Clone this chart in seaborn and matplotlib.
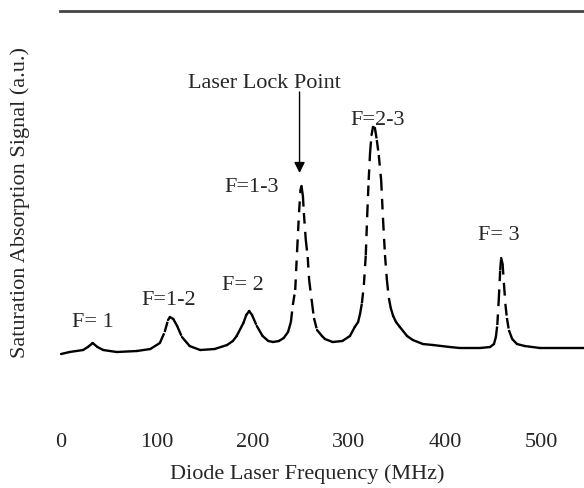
import matplotlib
matplotlib.use("Agg")
import matplotlib.pyplot as plt
import numpy as np
import pandas as pd
import seaborn as sns

# Saturated absorption trace (frequency in MHz, signal in arbitrary units)
freq_mhz = [0, 9, 23, 28, 33, 38, 44, 58, 79, 93, 103, 108, 111.5, 113.5, 117, 121,
            126, 134, 145, 160, 173, 179, 183, 190, 193, 196, 199, 204, 210, 216, 221,
            227, 232, 236.5, 239.5, 241.5, 244, 246, 248, 249.5, 250.5, 252, 253, 255,
            257, 258.5, 261.5, 263.5, 266.7, 271.9, 275, 283, 293, 301, 306, 309.5,
            311.5, 313.5, 315.5, 317.5, 319, 320.5, 322, 323.5, 325, 327, 329, 331,
            333.5, 335.5, 337.5, 339.5, 341.5, 343.5, 346, 349, 353, 360.5, 366.5, 377,
            387.5, 405, 415.5, 436.5, 447, 451, 453, 454.5, 456, 457.5, 458.5, 460,
            461.5, 463, 464.5, 466.5, 470, 475, 483, 499, 520, 545]
signal_au = [-0.2, 0.0, 0.2, 0.5, 0.9, 0.5, 0.2, 0.0, 0.1, 0.3, 0.9, 2.0, 3.2, 3.5, 3.3,
             2.6, 1.5, 0.6, 0.2, 0.3, 0.7, 1.1, 1.6, 2.9, 3.7, 4.1, 3.7, 2.6, 1.6, 1.1,
             1.0, 1.1, 1.4, 2.0, 3.0, 4.7, 6.2, 10.2, 14.0, 16.2, 16.6, 15.6, 13.9, 11.2,
             9.5, 7.2, 4.9, 3.4, 2.2, 1.6, 1.3, 1.0, 1.1, 1.6, 2.5, 3.0, 3.8, 4.9, 6.7,
             9.7, 13.7, 17.2, 20.0, 21.7, 22.5, 22.4, 21.2, 19.7, 17.2, 13.2, 9.7, 7.2,
             5.4, 4.4, 3.6, 3.0, 2.5, 1.6, 1.2, 0.8, 0.7, 0.5, 0.4, 0.4, 0.5, 0.8, 1.5,
             2.7, 5.2, 8.2, 9.4, 8.8, 6.7, 4.7, 3.4, 2.2, 1.3, 0.8, 0.6, 0.4, 0.4, 0.4]

# Hyperfine / crossover peak labels
peak_labels = ["F= 1", "F=1-2", "F= 2", "F=1-3", "F=2-3", "F= 3"]
peak_label_freq = [33, 112, 189, 199, 330, 456]
peak_label_signal = [2.5, 4.7, 6.2, 16.0, 22.7, 11.2]

lock_text = "Laser Lock Point"

x_ticks = [0, 100, 200, 300, 400, 500]
x_marks = [300, 400]

sns.set_style("white")
plt.rcParams["font.family"] = ["Liberation Serif", "DejaVu Serif"]

fig = plt.figure(figsize=(5.84, 4.88), dpi=100)
ax = fig.add_axes([0.1027, 0.1475, 0.8973, 0.830])
ax.set_xlim(-1.04, 544.8)
ax.set_ylim(-6.4, 34.1)

# Split the trace into segments; the steep flanks are drawn broken, as the
# sparse sampling of the scope trace renders them.
pts = ax.transData.transform(np.column_stack([freq_mhz, signal_au]))
rows = []
for i in range(len(freq_mhz) - 1):
    dx, dy = np.abs(pts[i + 1] - pts[i])
    kind = "steep" if (dy > 9 and dy > 2.0 * dx) else "flat"
    for j in (i, i + 1):
        rows.append({"freq": freq_mhz[j], "signal": signal_au[j], "seg": i, "kind": kind})
seg_df = pd.DataFrame(rows)

sns.lineplot(data=seg_df, x="freq", y="signal", units="seg", style="kind",
             dashes={"flat": "", "steep": (4.5, 3.5)}, estimator=None,
             color="black", linewidth=1.7, sort=False, legend=False, ax=ax)

ax.set_xlim(-1.04, 544.8)
ax.set_ylim(-6.4, 34.1)

for side in ["left", "right", "bottom"]:
    ax.spines[side].set_visible(False)
ax.spines["top"].set_visible(True)
ax.spines["top"].set_color("#444444")
ax.spines["top"].set_linewidth(2.0)

ax.set_yticks([])
ax.set_xticks(x_ticks)
ax.set_xticklabels([str(t) for t in x_ticks], fontsize=16)
ax.tick_params(axis="x", which="major", length=0, pad=12)
ax.set_xticks(x_marks, minor=True)
ax.tick_params(axis="x", which="minor", direction="in", length=7, width=1.6,
               color="#444444")

ax.set_xlabel("Diode Laser Frequency (MHz)", fontsize=16)
ax.xaxis.set_label_coords(0.471, -0.118)
ax.set_ylabel("Saturation Absorption Signal (a.u.)", fontsize=16)
ax.yaxis.set_label_coords(-0.057, 0.528)

for lab, fx, sy in zip(peak_labels, peak_label_freq, peak_label_signal):
    ax.text(fx, sy, lab, fontsize=16, ha="center", va="baseline")

ax.text(211.5, 26.4, lock_text, fontsize=16, ha="center", va="baseline")
ax.annotate("", xy=(248.5, 17.9), xytext=(248.5, 26.0),
            arrowprops=dict(arrowstyle="-|>", color="black", lw=1.0,
                            mutation_scale=16, shrinkA=0, shrinkB=0))

fig.savefig("out.png", dpi=100)
